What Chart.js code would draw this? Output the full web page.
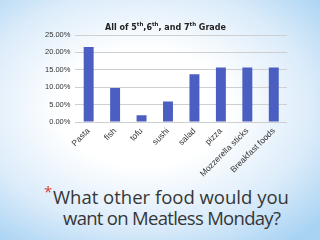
<!DOCTYPE html>
<html>
<head>
<meta charset="utf-8">
<script src="https://cdn.jsdelivr.net/npm/chart.js@4"></script>
<style>
  html, body { margin: 0; padding: 0; }
  body {
    width: 320px; height: 240px; overflow: hidden; position: relative;
    background: radial-gradient(ellipse 75% 70% at 45% 45%, #ffffff 35%, #dcecfa 70%, #a9d3f3 100%);
    font-family: "DejaVu Sans", sans-serif;
  }
  #chartBox { position: absolute; left: 0; top: 0; width: 320px; height: 183px; }
  #title {
    position: absolute; left: 105px; top: 21px; white-space: nowrap;
    font: bold 8px "DejaVu Sans", sans-serif; color: #222;
  }
  #title sup { font-size: 5.5px; }
  #caption {
    position: absolute; left: 53px; top: 186px; width: 267px; white-space: nowrap;
    font: 18.5px "Open Sans", sans-serif; color: #363636; line-height: 21px;
  }
  #caption .l2 { display: block; margin-left: 10px; letter-spacing: -0.7px; }
  #caption .star { color: #d9382c; position: absolute; left: -9px; top: -5px; font-size: 15px; }
</style>
</head>
<body>
<div id="chartBox"><canvas id="foodChart"></canvas></div>
<div id="title">All of 5<sup>th</sup>,6<sup>th</sup>, and 7<sup>th</sup> Grade</div>
<div id="caption"><span class="star">*</span>What other food would you<span class="l2">want on Meatless Monday?</span></div>
<script>
var foods = ['Pasta', 'fish', 'tofu', 'sushi', 'salad', 'pizza', 'Mozzerella sticks', 'Breakfast foods'];
var percents = [21.57, 9.80, 1.96, 5.88, 13.73, 15.69, 15.69, 15.69];
var yTicks = [0, 5, 10, 15, 20, 25];

document.addEventListener('DOMContentLoaded', function() {
  var ctx = document.getElementById('foodChart').getContext('2d');

  new Chart(ctx, {
    type: 'bar',
    data: {
      labels: foods,
      datasets: [{
        label: 'All of 5th,6th, and 7th Grade',
        data: percents,
        backgroundColor: '#4a5fc1',
        borderWidth: 0,
        categoryPercentage: 0.8,
        barPercentage: 0.47
      }]
    },
    options: {
      responsive: true,
      maintainAspectRatio: false,
      animation: false,
      layout: { padding: { left: 40, right: 33, top: 35, bottom: 0 } },
      plugins: { legend: { display: false }, title: { display: false }, tooltip: { enabled: false } },
      scales: {
        x: {
          grid: { display: false, drawTicks: false },
          border: { display: false },
          ticks: {
            minRotation: 45, maxRotation: 45, padding: 4,
            font: { family: 'Liberation Sans', size: 8.5 }, color: '#333'
          }
        },
        y: {
          min: 0, max: 25,
          afterBuildTicks: function(axis) { axis.ticks = yTicks.map(function(v) { return { value: v }; }); },
          grid: { color: '#cfcfcf', drawTicks: false },
          border: { display: false },
          ticks: {
            padding: 5,
            font: { family: 'Liberation Sans', size: 7.5 }, color: '#333',
            callback: function(v) { return v.toFixed(2) + '%'; }
          }
        }
      }
    }
  });
});
</script>
</body>
</html>
